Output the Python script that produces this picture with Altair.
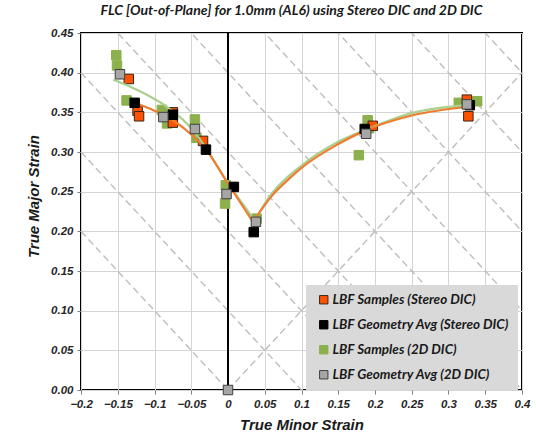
import altair as alt
import pandas as pd

# --- Measured forming-limit points -------------------------------------------
# Stereo DIC, individual samples
stereo_samples_x = [-0.135, -0.123, -0.121, -0.075, -0.075, -0.034, 0.197, 0.325, 0.327]
stereo_samples_y = [0.392, 0.352, 0.345, 0.350, 0.337, 0.314, 0.333, 0.366, 0.345]

# Stereo DIC, geometry averages
stereo_avg_x = [-0.127, -0.075, -0.030, 0.008, 0.035, 0.186, 0.329]
stereo_avg_y = [0.362, 0.347, 0.303, 0.256, 0.199, 0.329, 0.359]

# 2D DIC, individual samples
dic2d_samples_x = [-0.152, -0.151, -0.138, -0.090, -0.083, -0.045, -0.043, -0.004, -0.003,
                   0.039, 0.178, 0.190, 0.192, 0.314, 0.339]
dic2d_samples_y = [0.422, 0.409, 0.365, 0.353, 0.336, 0.341, 0.318, 0.235, 0.258,
                   0.216, 0.296, 0.340, 0.330, 0.362, 0.364]

# 2D DIC, geometry averages
dic2d_avg_x = [-0.147, -0.088, -0.045, -0.002, 0.038, 0.188, 0.325, 0.0]
dic2d_avg_y = [0.398, 0.344, 0.329, 0.247, 0.212, 0.323, 0.360, 0.0]

# --- Forming limit curves (left / right branch) --------------------------------
stereo_flc_left_x = [-0.127, -0.100, -0.075, -0.050, -0.030, 0.000, 0.034]
stereo_flc_left_y = [0.362, 0.352, 0.340, 0.322, 0.303, 0.260, 0.212]
stereo_flc_right_x = [0.034, 0.060, 0.084, 0.100, 0.150, 0.184, 0.250, 0.328]
stereo_flc_right_y = [0.212, 0.245, 0.267, 0.280, 0.310, 0.326, 0.346, 0.357]

dic2d_flc_left_x = [-0.156, -0.130, -0.106, -0.083, -0.048, -0.030, 0.000, 0.036]
dic2d_flc_left_y = [0.391, 0.381, 0.370, 0.357, 0.328, 0.305, 0.261, 0.214]
dic2d_flc_right_x = [0.036, 0.060, 0.100, 0.150, 0.190, 0.250, 0.325]
dic2d_flc_right_y = [0.214, 0.248, 0.283, 0.313, 0.329, 0.349, 0.359]

# --- Guide lines: constant thickness strain (major + minor = c) ---------------
thickness_levels = [0.0, 0.1, 0.2, 0.3, 0.4, 0.5, 0.6, 0.7, 0.8]

x_ticks = [-0.2, -0.15, -0.1, -0.05, 0.0, 0.05, 0.1, 0.15, 0.2, 0.25, 0.3, 0.35, 0.4]
y_ticks = [0.0, 0.05, 0.1, 0.15, 0.2, 0.25, 0.3, 0.35, 0.4, 0.45]

series_names = [
    "LBF Samples (Stereo DIC)",
    "LBF Geometry Avg (Stereo DIC)",
    "LBF Samples (2D DIC)",
    "LBF Geometry Avg (2D DIC)",
]
fill_colors = ["#FF5200", "#000000", "#8CB04C", "#A6A6A6"]
edge_colors = ["#3A2416", "#000000", "#8CB04C", "#3F3F3F"]

X_MIN, X_MAX = x_ticks[0], x_ticks[-1]


def points(xs, ys, name):
    return pd.DataFrame({"minor": xs, "major": ys, "series": name})


samples = pd.concat([
    points(dic2d_samples_x, dic2d_samples_y, series_names[2]),
    points(stereo_samples_x, stereo_samples_y, series_names[0]),
], ignore_index=True)

averages = pd.concat([
    points(stereo_avg_x, stereo_avg_y, series_names[1]),
    points(dic2d_avg_x, dic2d_avg_y, series_names[3]),
], ignore_index=True)


def branch(xs, ys, label):
    return pd.DataFrame({"minor": xs, "major": ys, "branch": label})


stereo_curve = pd.concat([branch(stereo_flc_left_x, stereo_flc_left_y, "L"),
                          branch(stereo_flc_right_x, stereo_flc_right_y, "R")])
dic2d_curve = pd.concat([branch(dic2d_flc_left_x, dic2d_flc_left_y, "L"),
                         branch(dic2d_flc_right_x, dic2d_flc_right_y, "R")])

guides = pd.DataFrame({
    "x1": [X_MIN for c in thickness_levels] + [0.0],
    "y1": [c - X_MIN for c in thickness_levels] + [0.0],
    "x2": [X_MAX for c in thickness_levels] + [X_MAX],
    "y2": [c - X_MAX for c in thickness_levels] + [X_MAX],
})

x_scale = alt.Scale(domain=[X_MIN, X_MAX], nice=False, zero=False)
y_scale = alt.Scale(domain=[y_ticks[0], y_ticks[-1]], nice=False)

x_axis = alt.Axis(values=x_ticks, format="~g", title="True Minor Strain",
                  titlePadding=8, labelPadding=4, labelFlush=False)
y_axis = alt.Axis(values=y_ticks, format=".2f", title="True Major Strain",
                  labelPadding=4, labelFlush=False, titleX=-48, titleY=163,
                  titleAngle=270, titleAlign="center", titleBaseline="middle")

fill_scale = alt.Scale(domain=series_names, range=fill_colors)
edge_scale = alt.Scale(domain=series_names, range=edge_colors)
legend = alt.Legend(title=None)

guide_layer = alt.Chart(guides).mark_rule(
    color="#BDBDBD", strokeWidth=1.4, strokeDash=[7, 4], clip=True
).encode(
    x=alt.X("x1:Q", scale=x_scale, axis=x_axis),
    y=alt.Y("y1:Q", scale=y_scale, axis=y_axis),
    x2="x2:Q",
    y2="y2:Q",
)

zero_line = alt.Chart(pd.DataFrame({"minor": [0.0]})).mark_rule(
    color="#000000", strokeWidth=2
).encode(x=alt.X("minor:Q", scale=x_scale, axis=x_axis))

sample_layer = alt.Chart(samples).mark_square(size=90, strokeWidth=1, opacity=1).encode(
    x=alt.X("minor:Q", scale=x_scale, axis=x_axis),
    y=alt.Y("major:Q", scale=y_scale, axis=y_axis),
    fill=alt.Fill("series:N", scale=fill_scale, legend=legend),
    stroke=alt.Stroke("series:N", scale=edge_scale, legend=legend),
)


def curve(df, colour):
    return alt.Chart(df).mark_line(
        color=colour, strokeWidth=2.2, interpolate="monotone", clip=True
    ).encode(
        x=alt.X("minor:Q", scale=x_scale, axis=x_axis),
        y=alt.Y("major:Q", scale=y_scale, axis=y_axis),
        detail="branch:N",
    )


avg_layer = alt.Chart(averages).mark_square(size=90, strokeWidth=1, opacity=1).encode(
    x=alt.X("minor:Q", scale=x_scale, axis=x_axis),
    y=alt.Y("major:Q", scale=y_scale, axis=y_axis),
    fill=alt.Fill("series:N", scale=fill_scale, legend=legend),
    stroke=alt.Stroke("series:N", scale=edge_scale, legend=legend),
)

chart = alt.layer(
    guide_layer,
    zero_line,
    sample_layer,
    curve(dic2d_curve, "#A9D08E"),
    curve(stereo_curve, "#ED7D31"),
    avg_layer,
).properties(
    width=441,
    height=357,
    autosize=alt.AutoSizeParams(type="none"),
    padding={"left": 81, "top": 33, "right": 14, "bottom": 50},
    title=alt.TitleParams(
        "FLC [Out-of-Plane] for 1.0mm (AL6) using Stereo DIC and 2D DIC",
        font="Lato", fontSize=14, fontStyle="italic", fontWeight="bold",
        color="#1A1A1A", anchor="middle", dx=-10, offset=9,
    ),
).configure_view(
    stroke="#000000", strokeWidth=2
).configure_axis(
    labelFont="Liberation Sans", labelFontSize=11.5, labelFontStyle="italic",
    labelFontWeight="bold", labelColor="#262626",
    titleFont="Liberation Sans", titleFontSize=15, titleFontStyle="italic",
    titleFontWeight="bold", titleColor="#1A1A1A",
    domain=False, tickColor="#808080", tickSize=4,
    gridColor="#D4D4D4", gridWidth=1,
).configure_legend(
    orient="none", legendX=225, legendY=252,
    fillColor="#D9D9D9", padding=8, rowPadding=10,
    symbolType="square", symbolSize=70, symbolStrokeWidth=1, symbolOffset=3,
    labelFont="Lato", labelFontSize=13.5, labelFontStyle="italic",
    labelFontWeight="bold", labelColor="#1A1A1A", labelOffset=2, labelLimit=300,
)

chart.save("out.html", embed_options={"renderer": "svg", "actions": False})
